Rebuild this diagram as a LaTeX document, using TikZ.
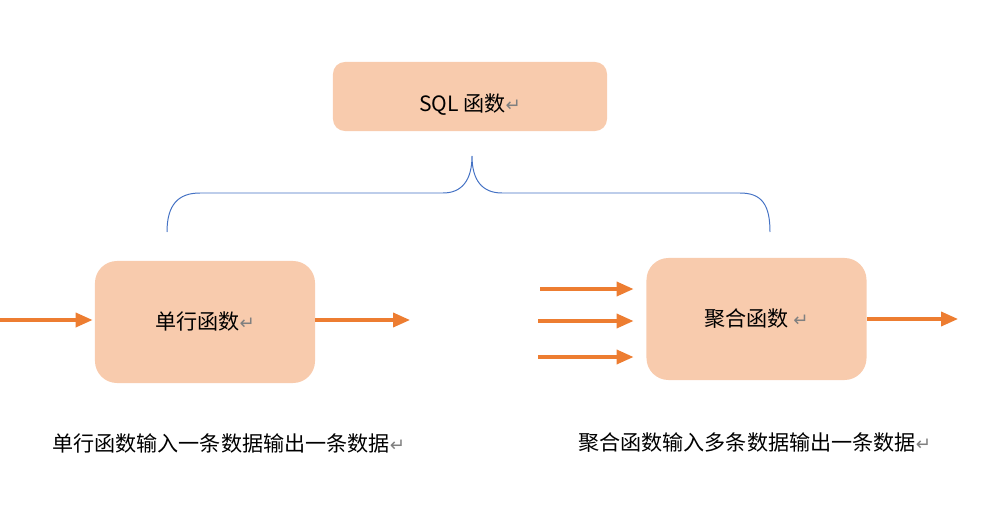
\documentclass[tikz,border=0pt]{standalone}
\usepackage{fontspec}
\usepackage{xcolor}
\setmainfont{Noto Sans CJK SC}
\newfontfamily\markfont{DejaVu Sans}
\usetikzlibrary{arrows.meta}
\usetikzlibrary{positioning}

\definecolor{boxfill}{HTML}{F8CBAD}
\definecolor{arroworange}{HTML}{ED7D31}
\definecolor{braceblue}{HTML}{4472C4}
\newcommand{\parmark}{{\markfont\color{gray}\fontsize{13pt}{14pt}\selectfont ↵}}

\begin{document}
\begin{tikzpicture}[x=0.025cm,y=-0.025cm,
funcbox/.style={fill=boxfill,inner sep=0pt,font=\fontsize{15pt}{18pt}\selectfont},
flow/.style={-{Triangle[length=12pt,width=10pt]},arroworange,line width=2.3pt},
caption/.style={anchor=west,inner sep=0pt,font=\fontsize{15pt}{18pt}\selectfont}]
\useasboundingbox (0,0) rectangle (987,526);
\node[funcbox,rounded corners=0.3cm,minimum width=6.85cm,minimum height=1.725cm,text height=0.8cm,text depth=0.06cm] (sqlbox) at (470,96.5) {SQL 函数\parmark};
\node[funcbox,rounded corners=0.55cm,minimum width=5.5cm,minimum height=3.05cm] (singlebox) at (205,322) {单行函数\parmark};
\node[funcbox,rounded corners=0.55cm,minimum width=5.5cm,minimum height=3.05cm] (aggbox) at (756.5,319) {聚合函数 \parmark};
% brace under SQL box
\draw[braceblue,line width=0.7pt] (167,232) .. controls (167,205) and (178,193) .. (200,193) -- (443,193)
  .. controls (462,193) and (472,180) .. (472,156) .. controls (472,180) and (482,193) .. (502,193) -- (740,193)
  .. controls (762,193) and (770,205) .. (770,232);
% single row function
\coordinate (sin) at (0,320);
\coordinate (sout) at (410,320);
\draw[flow,shorten >=1.5pt] (sin) -- (sin -| singlebox.west);
\draw[flow] (singlebox.east |- sout) -- (sout);
% aggregate function
\foreach \y/\x in {289/540,321/538,357/538}{
\coordinate (ain\y) at (\x,\y);
\draw[flow,shorten >=9pt] (ain\y) -- (ain\y -| aggbox.west);
}
\coordinate (aout) at (958,319);
\draw[flow] (aggbox.east |- aout) -- (aout);
\node[caption] (singlecap) at (52,443) {单行函数输入一条数据输出一条数据\parmark};
\node[caption] (aggcap) at (578,443) {聚合函数输入多条数据输出一条数据\parmark};
\end{tikzpicture}
\end{document}
